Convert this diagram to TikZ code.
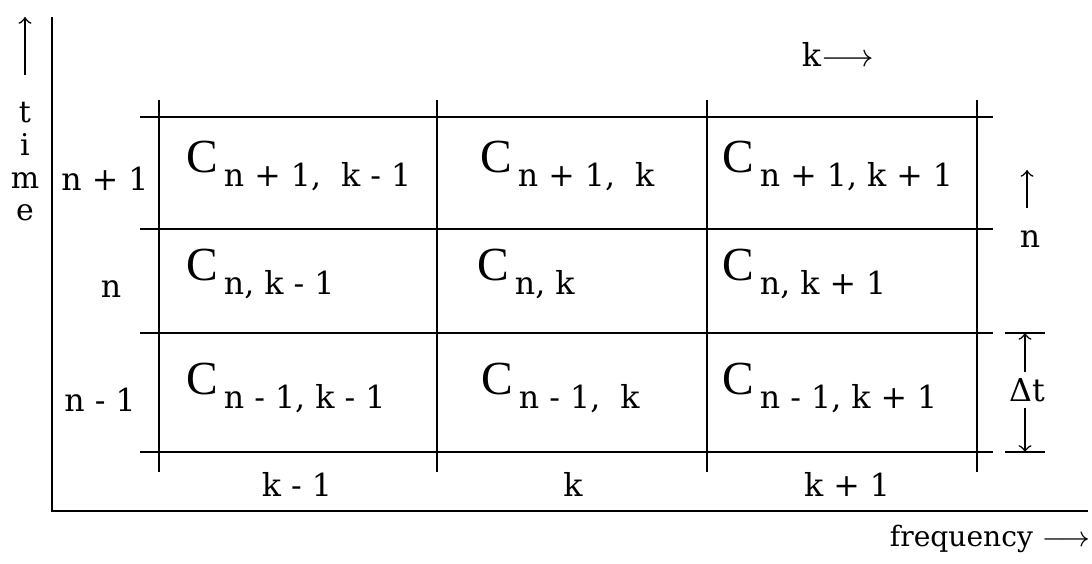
\documentclass[tikz,border=0pt]{standalone}
\usepackage{fontspec}
\setmainfont{DejaVu Serif}
\newfontfamily\capfont{Liberation Serif}

% coefficient in a cell: big C with lowered index
\newcommand{\cellC}[1]{{\capfont\fontsize{13.5}{14}\selectfont C}\hspace{1.6pt}\raisebox{-3.8pt}{#1}}

\begin{document}
\begin{tikzpicture}[
    x=1cm, y=1cm,
    font=\fontsize{9}{10}\selectfont,
    lbl/.style={inner sep=1.5pt},
    cell/.style={anchor=base west, inner sep=0pt},
    gridline/.style={black, line width=0.6pt},
    axisline/.style={black, line width=0.7pt},
    arr/.style={black, line width=0.45pt, ->},
  ]

  % ---- page ------------------------------------------------------------------
  % 10.92 x 5.64;  rows split at y=-1.17,-2.29,-3.33,-4.52;  columns at x=1.59,4.37,7.07,9.77
  \useasboundingbox (0,0) rectangle (10.92,-5.64);

  % ---- axes ------------------------------------------------------------------
  \draw[axisline] (0.52,-0.17) -- (0.52,-5.11) -- (10.88,-5.11);

  % ---- grid --------------------------------------------------------------------
  \draw[gridline] (1.40,-1.17) -- (9.93,-1.17);
  \draw[gridline] (1.40,-2.29) -- (9.93,-2.29);
  \draw[gridline] (1.40,-3.33) -- (9.93,-3.33);
  \draw[gridline] (1.40,-4.52) -- (9.93,-4.52);
  \draw[gridline] (1.59,-1.00) -- (1.59,-4.72);
  \draw[gridline] (4.37,-1.00) -- (4.37,-4.72);
  \draw[gridline] (7.07,-1.00) -- (7.07,-4.72);
  \draw[gridline] (9.77,-1.00) -- (9.77,-4.72);
  % ticks of the time step
  \draw[gridline] (10.05,-3.33) -- (10.45,-3.33);
  \draw[gridline] (10.05,-4.52) -- (10.45,-4.52);

  % ---- cells -------------------------------------------------------------------
  \node[cell] (cA1) at (1.86,-1.73) {\cellC{n + 1,\ \ k - 1}};
  \node[cell] (cA2) at (4.80,-1.73) {\cellC{n + 1,\ \ k}};
  \node[cell] (cA3) at (7.22,-1.73) {\cellC{n + 1, k + 1}};
  \node[cell] (cB1) at (1.86,-2.81) {\cellC{n, k - 1}};
  \node[cell] (cB2) at (4.77,-2.81) {\cellC{n, k}};
  \node[cell] (cB3) at (7.22,-2.81) {\cellC{n, k + 1}};
  \node[cell] (cC1) at (1.86,-3.95) {\cellC{n - 1, k - 1}};
  \node[cell] (cC2) at (4.81,-3.95) {\cellC{n - 1,\ \ k}};
  \node[cell] (cC3) at (7.22,-3.95) {\cellC{n - 1, k + 1}};

  % ---- row and column labels -------------------------------------------------
  \node[lbl, anchor=base] (rA) at (1.05,-1.91) {n + 1};
  \node[lbl, anchor=base] (rB) at (1.11,-2.98) {n};
  \node[lbl, anchor=base] (rC) at (1.00,-4.12) {n - 1};
  \node[lbl, anchor=base] (kA) at (2.97,-4.97) {k - 1};
  \node[lbl, anchor=base] (kB) at (5.73,-4.97) {k};
  \node[lbl, anchor=base] (kC) at (8.47,-4.97) {k + 1};

  \node[lbl, anchor=base west] (kdir) at (7.96,-0.67) {k$\longrightarrow$};
  \node[lbl, anchor=base west] (freq) at (8.84,-5.47) {\fontsize{8}{9}\selectfont frequency $\longrightarrow$};

  % ---- time axis ---------------------------------------------------------------
  \node[lbl, align=center, font=\fontsize{8.5}{9.3}\selectfont] (time) at (0.25,-1.62) {t\\i\\m\\e};
  \coordinate (tTip) at (0.25,-0.17);
  \coordinate (tTail) at (0.25,-0.75);
  \draw[arr] (tTail) -- (tTip);

  % ---- n and time step at the right ------------------------------------------
  \node[lbl] (nR) at (10.30,-2.39) {n};
  \coordinate (nTip) at (10.27,-1.70);
  \draw[arr] (nR.north) ++(-0.03,0.17) -- (nTip);

  \node[lbl] (dt) at (10.27,-3.90) {Δt};
  \coordinate (dtTop) at (10.25,-3.33);
  \coordinate (dtBot) at (10.25,-4.52);
  \draw[arr] (dt.north -| dtTop) -- (dtTop);
  \draw[arr] (dt.south -| dtBot) -- (dtBot);

\end{tikzpicture}
\end{document}
